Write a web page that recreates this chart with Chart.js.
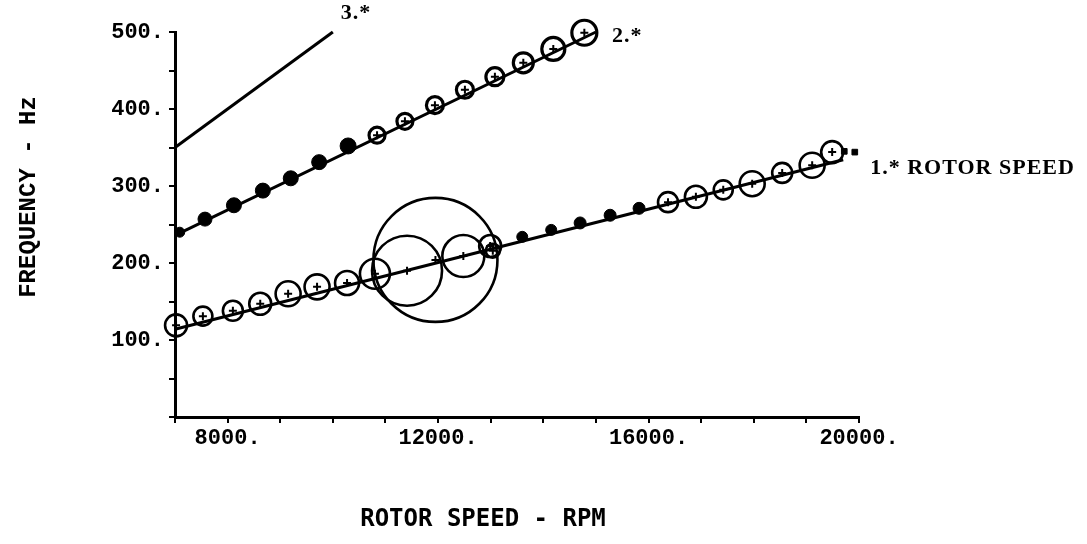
<!DOCTYPE html>
<html><head><meta charset="utf-8">
<script src="https://cdn.jsdelivr.net/npm/chart.js@4.4.0/dist/chart.umd.min.js"></script>
<style>html,body{margin:0;padding:0;background:#fff;}canvas{display:block;}</style>
</head><body>
<canvas id="c" width="1087" height="544"></canvas>
<script>
// ---- tick labels ----
const xLabelTicks = [8000, 12000, 16000, 20000];
const yLabelTicks = [100, 200, 300, 400, 500];

// ---- order lines (rpm, Hz) ----
const line1xRpm = [7000, 19700];
const line1xHz  = [114, 334];
const line2xRpm = [7000, 15000];
const line2xHz  = [236, 500];
const line3xRpm = [7000, 10000];
const line3xHz  = [350, 500];
const lineNames = ['1.* ROTOR SPEED', '2.*', '3.*'];

// ---- 1x response: open circles ----
const rpmOpen1x = [7020, 7530, 8100, 8620, 9150, 9700, 10270, 10800, 11410, 11950, 12480, 12990, 13040, 16370, 16900, 17420, 17970, 18540, 19110, 19490];
const hzOpen1x  = [119, 131, 138, 147, 160, 169, 174, 186, 190, 204, 209, 222, 216, 279, 286, 295, 303, 317, 327, 344];
const ampOpen1x = [11, 9.5, 10, 11, 12.5, 12.5, 12, 15, 35, 62, 21, 11, 7, 10, 11, 9.5, 12.5, 10, 12.5, 11];

// ---- 1x response: small filled dots ----
const rpmDot1x = [13600, 14150, 14700, 15270, 15820];
const hzDot1x  = [234, 243, 252, 262, 271];
const ampDot1x = [5.5, 5.5, 6, 6, 6];

// ---- 2x response: small filled dots ----
const rpmDot2x = [7090, 7570, 8120, 8670, 9200, 9740, 10290];
const hzDot2x  = [240, 257, 275, 294, 310, 331, 352];
const ampDot2x = [5, 7, 7.5, 7.5, 7.5, 7.5, 8];

// ---- 2x response: open circles ----
const rpmOpen2x = [10840, 11370, 11940, 12510, 13080, 13620, 14190, 14780];
const hzOpen2x  = [366, 384, 405, 425, 442, 460, 478, 499];
const ampOpen2x = [8, 8, 8.5, 8.5, 9, 10, 11.5, 12.5];

// ---- end marks near 1x ----
const rpmMark = [19720, 19920];
const hzMark  = [345, 344];

const pts = (xs, ys, rs) => xs.map((v, i) => rs ? {x: v, y: ys[i], r: rs[i]} : {x: v, y: ys[i]});

const lineDs = (xs, ys) => ({
  type: 'line', data: pts(xs, ys), borderColor: '#000', borderWidth: 3,
  pointRadius: 0, tension: 0, fill: false, clip: false
});
const openDs = (xs, ys, rs, bw) => ({
  type: 'bubble', data: pts(xs, ys, rs), backgroundColor: 'rgba(0,0,0,0)',
  borderColor: '#000', borderWidth: bw, clip: false
});
const dotDs = (xs, ys, rs) => ({
  type: 'bubble', data: pts(xs, ys, rs), backgroundColor: '#000',
  borderColor: '#000', borderWidth: 1, clip: false
});
const crossDs = (xs, ys) => ({
  type: 'scatter', data: pts(xs, ys), pointStyle: 'cross', pointRadius: 4,
  borderColor: '#000', borderWidth: 2, clip: false
});

const monoTick = {family: 'Liberation Mono', weight: 'bold', size: 22};

const textPlugin = {
  id: 'texts',
  afterDraw(chart) {
    const {ctx, scales: {x, y}} = chart;
    ctx.save();
    ctx.fillStyle = '#000';
    // y axis title
    ctx.save();
    ctx.translate(29, 197);
    ctx.rotate(-Math.PI / 2);
    ctx.font = 'bold 24px "Liberation Mono"';
    ctx.textAlign = 'center';
    ctx.textBaseline = 'middle';
    ctx.fillText('FREQUENCY - Hz', 0, 0);
    ctx.restore();
    // x axis title
    ctx.font = 'bold 24px "DejaVu Sans Mono"';
    ctx.textAlign = 'center';
    ctx.textBaseline = 'middle';
    ctx.fillText('ROTOR SPEED - RPM', 483, 520);
    // order line labels
    ctx.textAlign = 'left';
    ctx.font = 'bold 22px "Liberation Serif"';
    try { ctx.letterSpacing = '1px'; } catch (e) {}
    const ends = [[line1xRpm[1], line1xHz[1], 27, 8], [line2xRpm[1], line2xHz[1], 16, 4], [line3xRpm[1], line3xHz[1], 8, -19]];
    ends.forEach((e, i) => {
      ctx.fillText(lineNames[i], x.getPixelForValue(e[0]) + e[2], y.getPixelForValue(e[1]) + e[3]);
    });
    ctx.restore();
  }
};

new Chart(document.getElementById('c'), {
  type: 'scatter',
  data: {
    datasets: [
      lineDs(line1xRpm, line1xHz),
      lineDs(line2xRpm, line2xHz),
      lineDs(line3xRpm, line3xHz),
      openDs(rpmOpen1x, hzOpen1x, ampOpen1x, 2.6),
      dotDs(rpmDot1x, hzDot1x, ampDot1x),
      dotDs(rpmDot2x, hzDot2x, ampDot2x),
      openDs(rpmOpen2x, hzOpen2x, ampOpen2x, 3.2),
      crossDs(rpmOpen1x, hzOpen1x),
      crossDs(rpmOpen2x, hzOpen2x),
      {type: 'scatter', data: pts(rpmMark, hzMark), pointStyle: 'rect', pointRadius: 4,
       backgroundColor: '#000', borderColor: '#000', borderWidth: 1, clip: false}
    ]
  },
  options: {
    responsive: false,
    animation: false,
    events: [],
    layout: {autoPadding: false, padding: {left: 0, right: 228, top: 32, bottom: 0}},
    plugins: {legend: {display: false}, tooltip: {enabled: false}},
    scales: {
      x: {
        type: 'linear', min: 7000, max: 20000,
        afterFit(s) { s.height = 127; },
        border: {display: true, color: '#000', width: 3},
        grid: {display: true, drawOnChartArea: false, drawTicks: true, tickLength: 6, color: '#000', lineWidth: 2},
        ticks: {
          stepSize: 1000, autoSkip: false, maxRotation: 0, color: '#000', padding: 2, font: monoTick,
          callback: v => xLabelTicks.includes(v) ? v + '.' : ''
        }
      },
      y: {
        type: 'linear', min: 0, max: 500,
        afterFit(s) { s.width = 175; },
        border: {display: true, color: '#000', width: 3},
        grid: {display: true, drawOnChartArea: false, drawTicks: true, tickLength: 6, color: '#000', lineWidth: 2},
        ticks: {
          stepSize: 50, autoSkip: false, color: '#000', padding: 5, font: monoTick,
          callback: v => yLabelTicks.includes(v) ? v + '.' : ''
        }
      }
    }
  },
  plugins: [textPlugin]
});
</script>
</body></html>
